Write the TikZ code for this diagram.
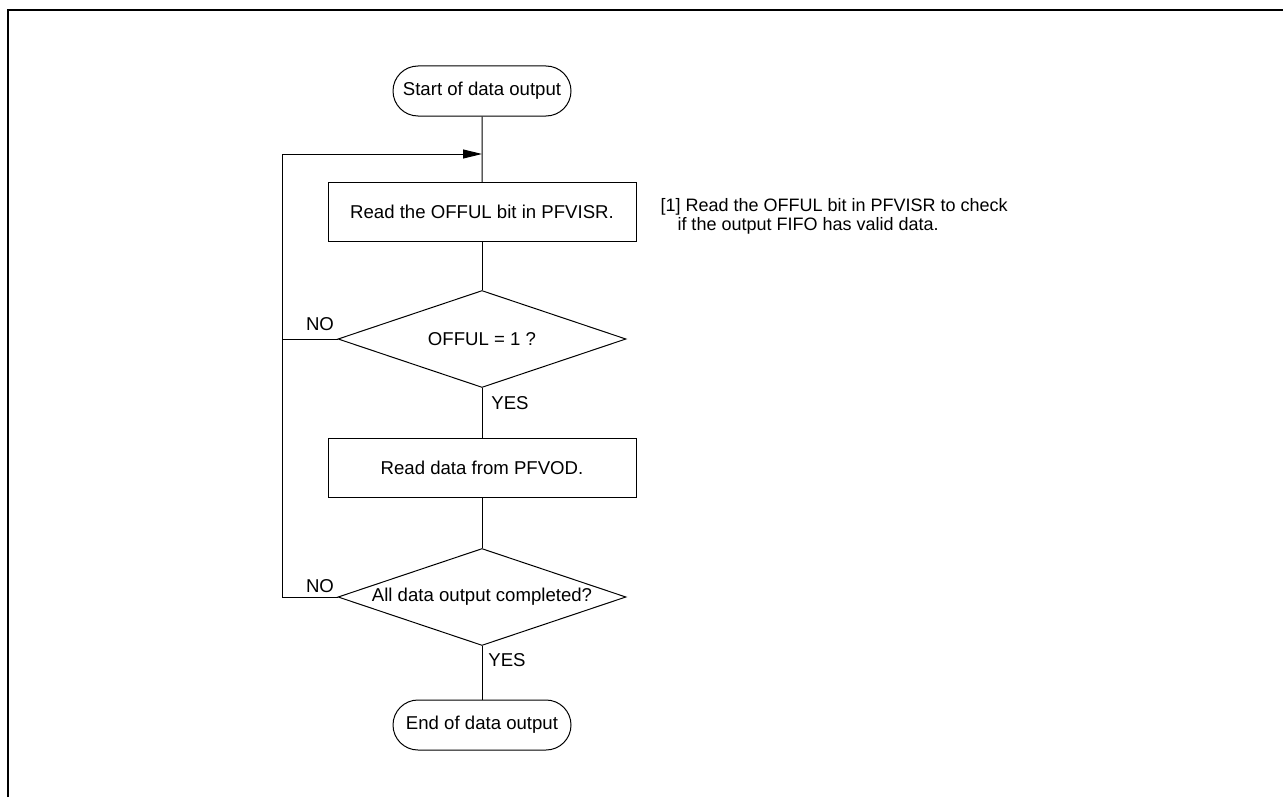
\documentclass[tikz,border=0pt]{standalone}
\usepackage{fontspec}
\setmainfont{Liberation Sans}
\usepackage{tikz}
\usetikzlibrary{arrows.meta, shapes.geometric, shapes.misc}

\tikzset{
  term/.style={draw, rounded rectangle, minimum width=89pt, minimum height=25pt, inner sep=0pt},
  proc/.style={draw, rectangle, minimum width=154pt, minimum height=29.5pt, inner sep=0pt},
  test/.style={draw, diamond, aspect=3, minimum width=144pt, minimum height=48.5pt, inner sep=0pt},
  tag/.style={inner sep=0pt}
}

\begin{document}
\begin{tikzpicture}[x=0.5pt, y=-0.5pt, line width=0.5pt,
    font=\fontsize{9.3}{11}\selectfont,
    >={Triangle[length=9.5pt, width=4.5pt]}]
  \useasboundingbox (0,0) rectangle (1283,797);

  % frame
  \draw[line width=1.3pt] (8,797) -- (8,10) -- (1283,10);

  % flow
  \node[term] (start) at (482,91) {Start of data output};
  \node[proc] (rdbit) at (482,212) {Read the OFFUL bit in PFVISR.};
  \node[test] (chk1) at (482,339) {OFFUL = 1 ?};
  \node[proc] (rddat) at (482,467.5) {Read data from PFVOD.};
  \node[test] (chk2) at (482,597) {All data output completed?};
  \node[term] (stop) at (482,725) {End of data output};

  \coordinate (join) at (482,154);
  \coordinate (back) at (282,154);

  \draw (start) -- (rdbit);
  \draw (rdbit) -- (chk1);
  \draw (chk1) -- (rddat);
  \draw (rddat) -- (chk2);
  \draw (chk2) -- (stop);

  % NO branches
  \draw (chk1.west) -- (chk1.west -| back);
  \draw[->] (chk2.west) -- (chk2.west -| back) -- (back) -- (join);

  \node[tag] (no1) at (320,324) {NO};
  \node[tag] (yes1) at (510,403) {YES};
  \node[tag] (no2) at (320,586) {NO};
  \node[tag] (yes2) at (507,660) {YES};

  % note
  \node[tag, anchor=north west, align=left, font=\fontsize{9}{9.5}\selectfont] (note) at (660,198)
    {[1] Read the OFFUL bit in PFVISR to check\\\hspace*{8.5pt}if the output FIFO has valid data.};
\end{tikzpicture}
\end{document}
